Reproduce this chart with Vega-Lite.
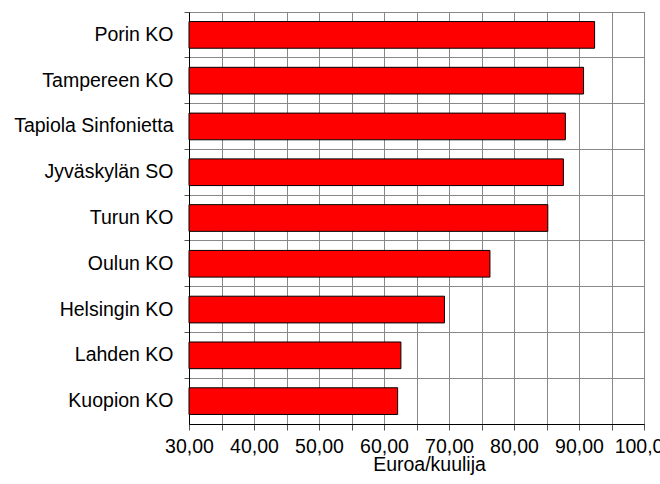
{
  "$schema": "https://vega.github.io/schema/vega-lite/v6.json",
  "width": 455,
  "height": 412,
  "autosize": {"type": "none"},
  "padding": {"left": 189, "top": 12, "right": 16, "bottom": 60},
  "background": "white",
  "config": {
    "view": {"stroke": "#222", "strokeWidth": 1},
    "font": "Liberation Sans"
  },
  "data": {
    "values": [
      {"orkesteri": "Porin KO", "euroa": 92.4},
      {"orkesteri": "Tampereen KO", "euroa": 90.7},
      {"orkesteri": "Tapiola Sinfonietta", "euroa": 87.9},
      {"orkesteri": "Jyväskylän SO", "euroa": 87.6},
      {"orkesteri": "Turun KO", "euroa": 85.2},
      {"orkesteri": "Oulun KO", "euroa": 76.3},
      {"orkesteri": "Helsingin KO", "euroa": 69.3},
      {"orkesteri": "Lahden KO", "euroa": 62.6},
      {"orkesteri": "Kuopion KO", "euroa": 62.1}
    ]
  },
  "mark": {
    "type": "bar",
    "fill": "#ff0000",
    "stroke": "#000000",
    "strokeWidth": 1,
    "height": {"band": 0.583}
  },
  "encoding": {
    "y": {
      "field": "orkesteri",
      "type": "nominal",
      "sort": null,
      "scale": {"padding": 0},
      "axis": {
        "title": null,
        "bandPosition": 0,
        "grid": true,
        "gridColor": "#888888",
        "gridWidth": 1,
        "labelFontSize": 19.5,
        "labelColor": "#000000",
        "labelPadding": 11,
        "labelLimit": 300,
        "tickSize": 5,
        "tickColor": "#555555",
        "domainColor": "#000000"
      }
    },
    "x": {
      "field": "euroa",
      "type": "quantitative",
      "scale": {"domain": [30, 100], "nice": false, "zero": false},
      "axis": {
        "values": [30, 35, 40, 45, 50, 55, 60, 65, 70, 75, 80, 85, 90, 95, 100],
        "labelExpr": "datum.value % 10 === 0 ? replace(format(datum.value, '.2f'), '.', ',') : ''",
        "labelFontSize": 19.5,
        "labelColor": "#000000",
        "labelOverlap": false,
        "labelFlush": false,
        "labelPadding": 7,
        "tickSize": 6,
        "tickColor": "#555555",
        "domainColor": "#000000",
        "grid": true,
        "gridColor": "#888888",
        "gridWidth": 1,
        "title": "Euroa/kuulija",
        "titleFontSize": 19.5,
        "titleFontWeight": "normal",
        "titleColor": "#000000",
        "titleX": 240,
        "titleY": 46,
        "titleBaseline": "alphabetic"
      }
    },
    "x2": {"datum": 30}
  }
}
